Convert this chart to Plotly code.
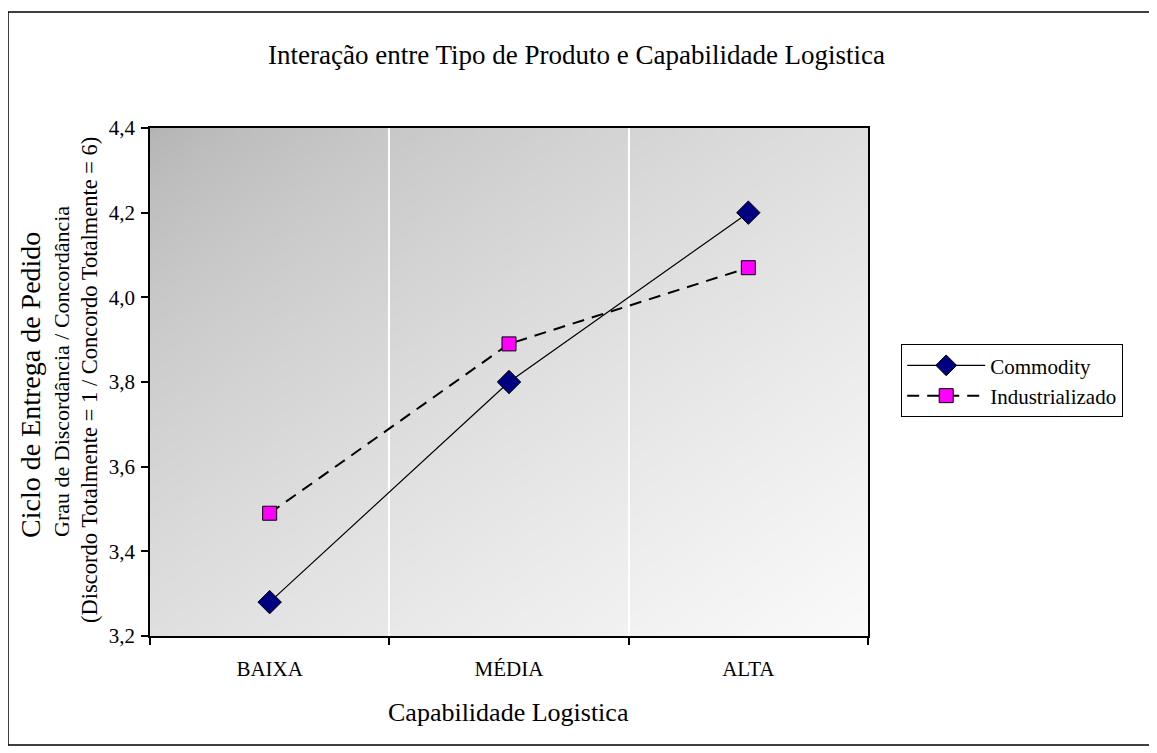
import base64
import struct
import zlib

import plotly.graph_objects as go

# ---- data ----
categories = ["BAIXA", "MÉDIA", "ALTA"]
commodity = [3.28, 3.80, 4.20]
industrializado = [3.49, 3.89, 4.07]
series_names = ["Commodity", "Industrializado"]
y_ticks = [3.2, 3.4, 3.6, 3.8, 4.0, 4.2, 4.4]

title_text = "Interação entre Tipo de Produto e Capabilidade Logistica"
x_title = "Capabilidade Logistica"
y_title_1 = "Ciclo de Entrega de Pedido"
y_title_2 = "Grau de Discordância / Concordância"
y_title_3 = "(Discordo Totalmente = 1 / Concordo Totalmente = 6)"

FONT = "Liberation Serif"

# ---- figure geometry (page has an 8px body margin) ----
OFF = 8
W, H = 1157, 753
L, R, T, B = 150 - OFF, 289 + OFF, 128 - OFF, 117 + OFF
PW, PH = W - L - R, H - T - B


def px_x(px):
    return (px - OFF - L) / PW


def px_y(py):
    return (H - B - (py - OFF)) / PH


# ---- diagonal grey gradient for the plot area (style only) ----
def gradient_png(w=96, h=96, c0=180, c1=250):
    rows = []
    for j in range(h):
        row = bytearray([0])
        for i in range(w):
            t = (i / (w - 1) + j / (h - 1)) / 2
            v = int(round(c0 + (c1 - c0) * (t ** 0.7)))
            row.append(v)
        rows.append(bytes(row))
    raw = b"".join(rows)

    def chunk(tag, data):
        c = struct.pack(">I", len(data)) + tag + data
        return c + struct.pack(">I", zlib.crc32(tag + data) & 0xFFFFFFFF)

    png = b"\x89PNG\r\n\x1a\n"
    png += chunk(b"IHDR", struct.pack(">IIBBBBB", w, h, 8, 0, 0, 0, 0))
    png += chunk(b"IDAT", zlib.compress(raw, 9))
    png += chunk(b"IEND", b"")
    return "data:image/png;base64," + base64.b64encode(png).decode()


fig = go.Figure()

fig.add_trace(go.Scatter(
    x=categories, y=commodity, name=series_names[0], mode="lines+markers",
    line=dict(color="black", width=1.2),
    marker=dict(symbol="diamond", size=18, color="#000080",
                line=dict(color="black", width=1)),
))
fig.add_trace(go.Scatter(
    x=categories, y=industrializado, name=series_names[1], mode="lines+markers",
    line=dict(color="black", width=2, dash="12px,8px"),
    marker=dict(symbol="square", size=14, color="#FF00FF",
                line=dict(color="black", width=1)),
))

fig.add_layout_image(dict(
    source=gradient_png(), xref="x domain", yref="y domain",
    x=0, y=1, sizex=1, sizey=1, xanchor="left", yanchor="top",
    sizing="stretch", layer="below",
))

# outer chart frame
fig.add_shape(type="rect", xref="paper", yref="paper",
              x0=px_x(8), x1=px_x(1150), y0=px_y(745), y1=px_y(12),
              line=dict(color="black", width=1.5), fillcolor="rgba(0,0,0,0)",
              layer="above")

ann_font = dict(family=FONT, color="black")
fig.add_annotation(text=title_text, xref="paper", yref="paper",
                   x=px_x(576), y=px_y(55), showarrow=False,
                   xanchor="center", yanchor="middle",
                   font=dict(size=27, **ann_font))
fig.add_annotation(text=x_title, xref="paper", yref="paper",
                   x=px_x(508), y=px_y(712), showarrow=False,
                   xanchor="center", yanchor="middle",
                   font=dict(size=26, **ann_font))
fig.add_annotation(text=y_title_1, xref="paper", yref="paper",
                   x=px_x(30), y=px_y(385), showarrow=False, textangle=-90,
                   xanchor="center", yanchor="middle",
                   font=dict(size=28, **ann_font))
fig.add_annotation(text=y_title_2, xref="paper", yref="paper",
                   x=px_x(61), y=px_y(372), showarrow=False, textangle=-90,
                   xanchor="center", yanchor="middle",
                   font=dict(size=22, **ann_font))
fig.add_annotation(text=y_title_3, xref="paper", yref="paper",
                   x=px_x(89), y=px_y(380), showarrow=False, textangle=-90,
                   xanchor="center", yanchor="middle",
                   font=dict(size=22.5, **ann_font))

fig.update_layout(
    width=W, height=H,
    margin=dict(l=L, r=R, t=T, b=B, autoexpand=False),
    paper_bgcolor="white",
    plot_bgcolor="#d8d8d8",
    separators=",.",
    font=dict(family=FONT, color="black", size=21),
    showlegend=True,
    legend=dict(
        x=px_x(901), y=px_y(344), xanchor="left", yanchor="top",
        bgcolor="white", bordercolor="black", borderwidth=1.2,
        font=dict(family=FONT, size=21, color="black"),
        tracegroupgap=0, itemwidth=78,
    ),
)

fig.update_xaxes(
    type="category", range=[-0.5, 2.5], tickson="boundaries",
    showgrid=True, gridcolor="white", gridwidth=1.5,
    showline=True, linecolor="black", linewidth=1.5, mirror=True,
    ticks="outside", ticklen=7, tickcolor="black", tickwidth=1.5,
    ticklabelstandoff=13,
    tickfont=dict(family=FONT, size=21, color="black"),
    zeroline=False,
)
fig.update_yaxes(
    range=[3.2, 4.4], tickvals=y_ticks, tickformat=".1f",
    showgrid=False, zeroline=False,
    showline=True, linecolor="black", linewidth=1.5, mirror=True,
    ticks="outside", ticklen=7, tickcolor="black", tickwidth=1.5,
    ticklabelstandoff=2,
    tickfont=dict(family=FONT, size=21, color="black"),
)

fig.write_html("out.html")
